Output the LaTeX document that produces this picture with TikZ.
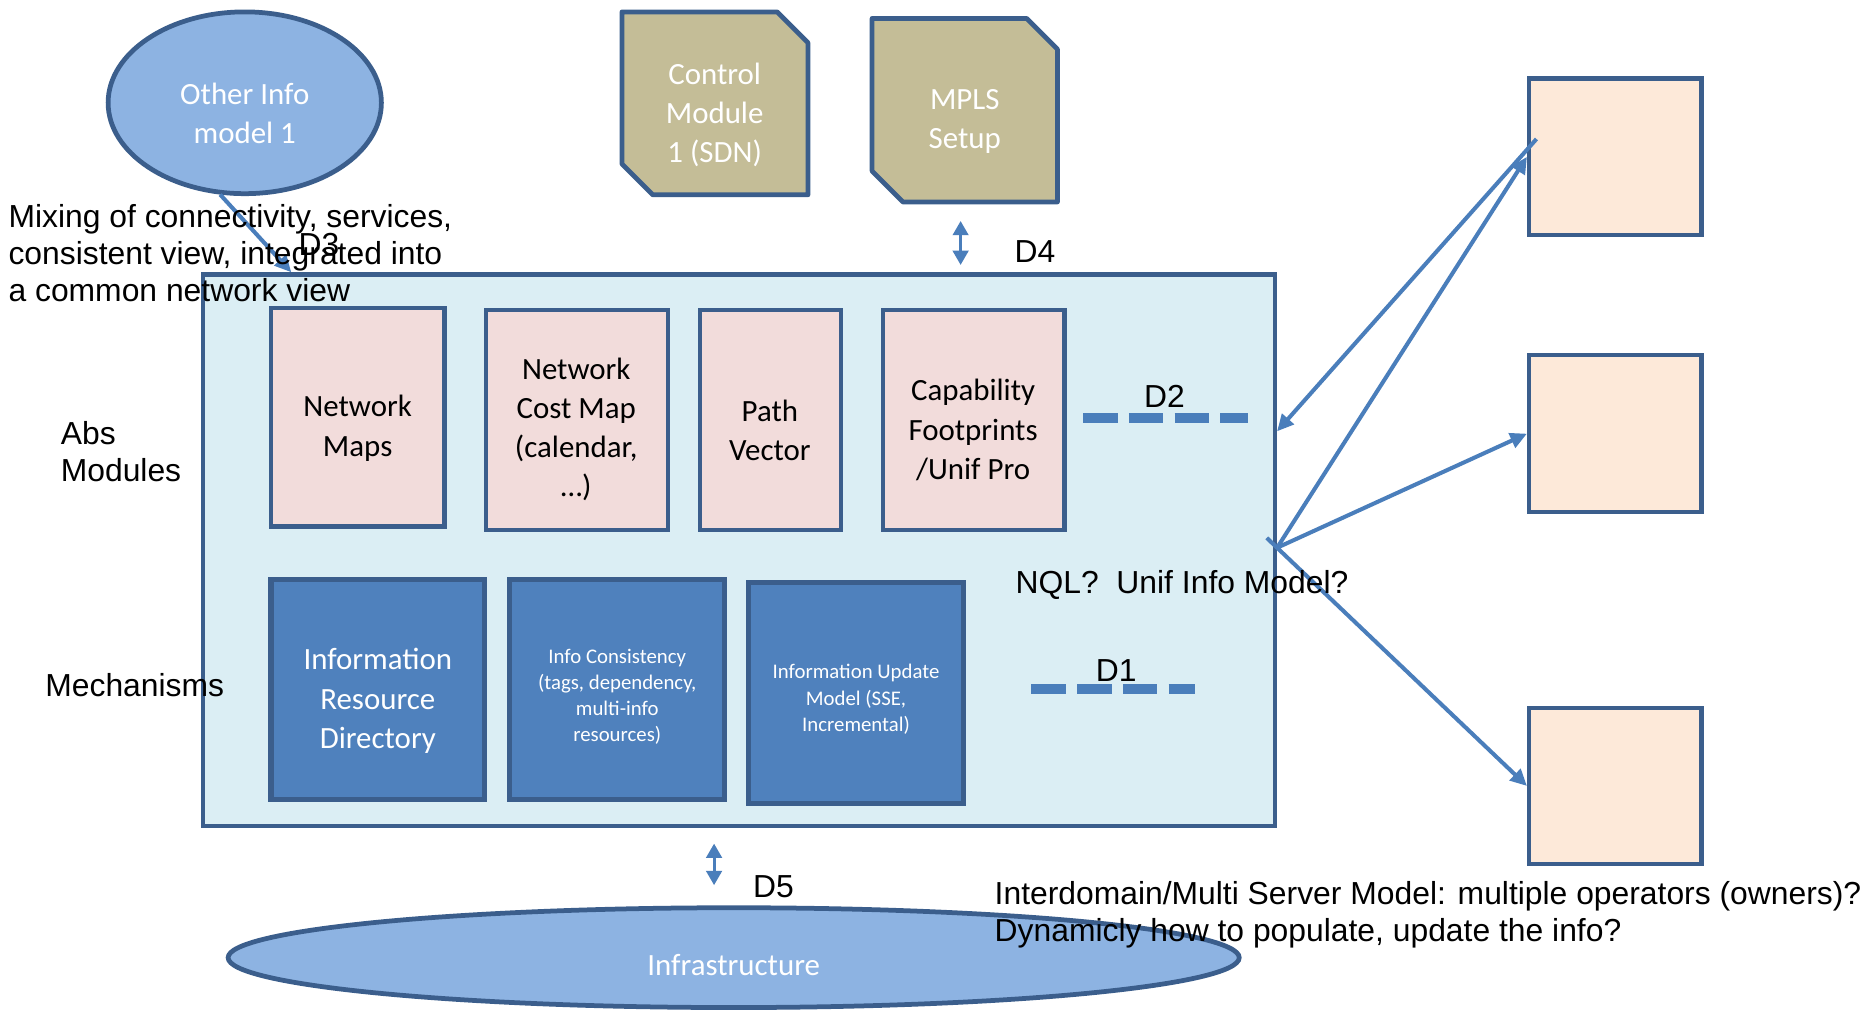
\documentclass[tikz,border=0pt]{standalone}
\usepackage{fontspec}
\setmainfont{Liberation Sans}
\newfontfamily\calibri{Carlito}
\usetikzlibrary{arrows.meta,calc,shapes.geometric}

\definecolor{edge}{HTML}{3B5E8C}
\definecolor{ovalfill}{HTML}{8DB3E2}
\definecolor{panelfill}{HTML}{DBEEF4}
\definecolor{pinkfill}{HTML}{F2DCDB}
\definecolor{mechfill}{HTML}{4F81BD}
\definecolor{tanfill}{HTML}{C4BD97}
\definecolor{peach}{HTML}{FDE9D9}
\definecolor{linkblue}{HTML}{4A7EBB}

\begin{document}
\begin{tikzpicture}[x=1pt,y=-1pt,
  edgeline/.style={draw=edge, line width=3.7pt},
  absbox/.style={edgeline, fill=pinkfill, rectangle, inner sep=0pt},
  mechbox/.style={draw=edge, line width=4.4pt, fill=mechfill, rectangle, inner sep=0pt},
  peerbox/.style={edgeline, fill=peach, rectangle, inner sep=0pt,
                  minimum width=145pt, minimum height=132pt},
  oval/.style={draw=edge, line width=4pt, fill=ovalfill, ellipse, inner sep=0pt},
  snipbox/.style={draw=edge, line width=4pt, fill=tanfill, line join=round},
  cal/.style={font=\calibri\fontsize{26}{33}\selectfont, align=center, inner sep=0pt},
  calw/.style={cal, text=white},
  calsmall/.style={font=\calibri\fontsize{17.5}{22}\selectfont, align=center, inner sep=0pt, text=white},
  arial/.style={font=\fontsize{26.8}{31.5}\selectfont, inner sep=0pt},
  linkarrow/.style={draw=linkblue, line width=3.4pt, -{Triangle[length=14pt,width=13pt]}},
  dblarrow/.style={draw=linkblue, line width=2.6pt,
                   {Triangle[length=12pt,width=13pt]}-{Triangle[length=12pt,width=13pt]}},
  dashrule/.style={draw=linkblue, line width=8pt, dash pattern=on 29pt off 9.5pt},
]
\useasboundingbox[fill=white] (0,0) rectangle (1568,850);

% main panel holding the modules
\node[edgeline, fill=panelfill, rectangle, inner sep=0pt,
      minimum width=902pt, minimum height=464pt] (panel) at (622,463) {};

% abstraction modules
\node[absbox, minimum width=146pt, minimum height=184pt] (nmaps) at (301,351) {};
\node[absbox, minimum width=153pt, minimum height=185pt] (cmap) at (485.5,353.5) {};
\node[absbox, minimum width=119pt, minimum height=185pt] (pvec) at (648.5,353.5) {};
\node[absbox, minimum width=153pt, minimum height=185pt] (capf) at (819.5,353.5) {};
\node[cal] (nmaps-t) at (301,360.5) {Network\\Maps};
\node[cal] (cmap-t) at (485,361.5) {Network\\Cost Map\\(calendar,\\\dots)};
\node[cal] (pvec-t) at (648,362) {Path\\Vector};
\node[cal] (capf-t) at (819,362) {Capability\\Footprints\\/Unif Pro};

% mechanisms
\node[mechbox, minimum width=180pt, minimum height=185pt] (ird) at (318,580.5) {};
\node[mechbox, minimum width=181pt, minimum height=185pt] (icons) at (519.5,580.5) {};
\node[mechbox, minimum width=181pt, minimum height=186pt] (iupd) at (720.5,583) {};
\node[calw] (ird-t) at (318,590) {Information\\Resource\\Directory};
\node[calsmall] (icons-t) at (519.5,586.5) {Info Consistency\\(tags, dependency,\\multi-info\\resources)};
\node[calsmall] (iupd-t) at (720.5,588.5) {Information Update\\Model (SSE,\\Incremental)};

% other information model
\node[oval, minimum width=230pt, minimum height=153pt] (oim) at (206,86.5) {};
\node[calw] (oim-t) at (206,95.5) {Other Info\\model 1};

% control modules with snipped corners
\draw[snipbox] (523.5,10) -- (654,10) -- (680,36) -- (680,164) -- (549.5,164) -- (523.5,138) -- cycle;
\node[calw] (ctrl) at (601.5,96.5) {Control\\Module\\1 (SDN)};
\draw[snipbox] (734,15.5) -- (864,15.5) -- (890,41.5) -- (890,170) -- (760,170) -- (734,144) -- cycle;
\node[calw] (mpls) at (812,102.5) {MPLS\\Setup};

% peer servers
\node[peerbox] (peer1) at (1359.5,132) {};
\node[peerbox] (peer2) at (1359.5,365) {};
\node[peerbox, minimum height=131pt] (peer3) at (1359.5,661.5) {};

% infrastructure
\node[oval, minimum width=851pt, minimum height=84pt] (infra) at (617.5,806) {};
\node[calw] (infra-t) at (617.5,812) {Infrastructure};

% interfaces
\coordinate (hub) at ($(panel.east)+(0,-2)$);
\coordinate (d2in) at ($(panel.east)+(0,-100)$);
\coordinate (d3in) at ($(panel.north west)+(76,0)$);
\draw[linkarrow] (oim.-105) -- (d3in);
\draw[linkarrow] ($(peer1.west)+(8,-15)$) -- (d2in);
\draw[linkarrow] (hub) -- (peer1.west);
\draw[linkarrow] (hub) -- (peer2.west);
\draw[linkarrow] ($(hub)!-12pt!(peer3.west)$) -- (peer3.west);

\coordinate (d4top) at (808.5,186);
\coordinate (d4bot) at (808.5,223);
\draw[dblarrow] (d4top) -- (d4bot);
\coordinate (d5top) at (601,710);
\coordinate (d5bot) at (601,745);
\draw[dblarrow] (d5top) -- (d5bot);

\draw[dashrule] (911.6,352) -- (1050,352);
\draw[dashrule] (868,580) -- (1006,580);

% labels
\node[arial] (d1) at (939.5,564) {D1};
\node[arial] (d2) at (980,334) {D2};
\node[arial] (d3) at (268.5,206) {D3};
\node[arial] (d4) at (871,212) {D4};
\node[arial] (d5) at (651,746) {D5};
\node[arial, anchor=west, align=left] (mixing) at (7,213)
  {Mixing of connectivity, services,\\consistent view, integrated into\\a common network view};
\node[arial, anchor=west, align=left] (abs) at (51,380) {Abs\\Modules};
\node[arial, anchor=west] (mech) at (38,577) {Mechanisms};
\node[arial, anchor=west] (nql) at (854.6,492) {NQL?\ \ Unif Info Model?};
\node[arial, anchor=west, align=left] (interdomain) at (837,770)
  {Interdomain/Multi Server Model: multiple operators (owners)?\\Dynamicly how to populate, update the info?};
\end{tikzpicture}
\end{document}
